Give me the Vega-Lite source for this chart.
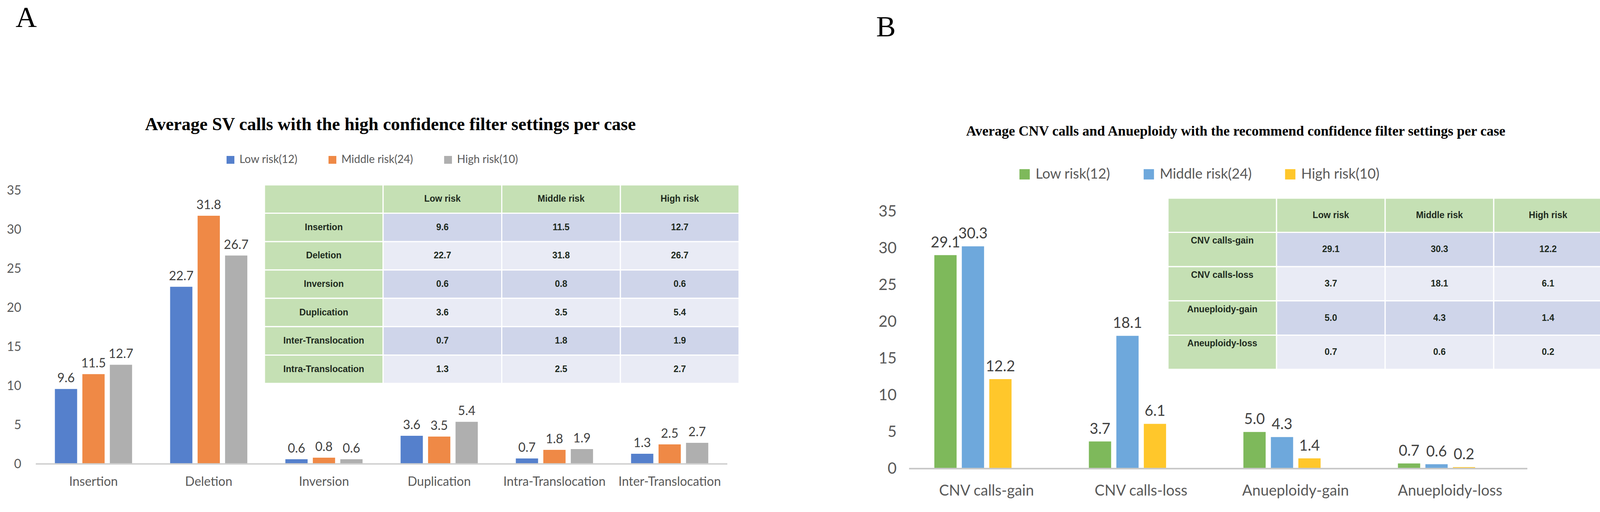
{
  "$schema": "https://vega.github.io/schema/vega-lite/v6.json",
  "background": "white",
  "padding": {"left": 16, "top": 9, "right": 0, "bottom": 0},
  "bounds": "flush",
  "spacing": 450,
  "datasets": {
    "svA": [
      {"type": "Insertion", "risk": "Low risk(12)", "value": 9.6},
      {"type": "Insertion", "risk": "Middle risk(24)", "value": 11.5},
      {"type": "Insertion", "risk": "High risk(10)", "value": 12.7},
      {"type": "Deletion", "risk": "Low risk(12)", "value": 22.7},
      {"type": "Deletion", "risk": "Middle risk(24)", "value": 31.8},
      {"type": "Deletion", "risk": "High risk(10)", "value": 26.7},
      {"type": "Inversion", "risk": "Low risk(12)", "value": 0.6},
      {"type": "Inversion", "risk": "Middle risk(24)", "value": 0.8},
      {"type": "Inversion", "risk": "High risk(10)", "value": 0.6},
      {"type": "Duplication", "risk": "Low risk(12)", "value": 3.6},
      {"type": "Duplication", "risk": "Middle risk(24)", "value": 3.5},
      {"type": "Duplication", "risk": "High risk(10)", "value": 5.4},
      {"type": "Intra-Translocation", "risk": "Low risk(12)", "value": 0.7},
      {"type": "Intra-Translocation", "risk": "Middle risk(24)", "value": 1.8},
      {"type": "Intra-Translocation", "risk": "High risk(10)", "value": 1.9},
      {"type": "Inter-Translocation", "risk": "Low risk(12)", "value": 1.3},
      {"type": "Inter-Translocation", "risk": "Middle risk(24)", "value": 2.5},
      {"type": "Inter-Translocation", "risk": "High risk(10)", "value": 2.7}
    ],
    "tabA": [
      {"row": "hdr", "col": "name", "text": "", "shade": "head"},
      {"row": "hdr", "col": "Low risk", "text": "Low risk", "shade": "head"},
      {"row": "hdr", "col": "Middle risk", "text": "Middle risk", "shade": "head"},
      {"row": "hdr", "col": "High risk", "text": "High risk", "shade": "head"},
      {"row": "Insertion", "col": "name", "text": "Insertion", "shade": "head"},
      {"row": "Insertion", "col": "Low risk", "text": "9.6", "shade": "dark"},
      {"row": "Insertion", "col": "Middle risk", "text": "11.5", "shade": "dark"},
      {"row": "Insertion", "col": "High risk", "text": "12.7", "shade": "dark"},
      {"row": "Deletion", "col": "name", "text": "Deletion", "shade": "head"},
      {"row": "Deletion", "col": "Low risk", "text": "22.7", "shade": "light"},
      {"row": "Deletion", "col": "Middle risk", "text": "31.8", "shade": "light"},
      {"row": "Deletion", "col": "High risk", "text": "26.7", "shade": "light"},
      {"row": "Inversion", "col": "name", "text": "Inversion", "shade": "head"},
      {"row": "Inversion", "col": "Low risk", "text": "0.6", "shade": "dark"},
      {"row": "Inversion", "col": "Middle risk", "text": "0.8", "shade": "dark"},
      {"row": "Inversion", "col": "High risk", "text": "0.6", "shade": "dark"},
      {"row": "Duplication", "col": "name", "text": "Duplication", "shade": "head"},
      {"row": "Duplication", "col": "Low risk", "text": "3.6", "shade": "light"},
      {"row": "Duplication", "col": "Middle risk", "text": "3.5", "shade": "light"},
      {"row": "Duplication", "col": "High risk", "text": "5.4", "shade": "light"},
      {"row": "Inter-Translocation", "col": "name", "text": "Inter-Translocation", "shade": "head"},
      {"row": "Inter-Translocation", "col": "Low risk", "text": "0.7", "shade": "dark"},
      {"row": "Inter-Translocation", "col": "Middle risk", "text": "1.8", "shade": "dark"},
      {"row": "Inter-Translocation", "col": "High risk", "text": "1.9", "shade": "dark"},
      {"row": "Intra-Translocation", "col": "name", "text": "Intra-Translocation", "shade": "head"},
      {"row": "Intra-Translocation", "col": "Low risk", "text": "1.3", "shade": "light"},
      {"row": "Intra-Translocation", "col": "Middle risk", "text": "2.5", "shade": "light"},
      {"row": "Intra-Translocation", "col": "High risk", "text": "2.7", "shade": "light"}
    ],
    "cnvB": [
      {"type": "CNV calls-gain", "risk": "Low risk(12)", "value": 29.1},
      {"type": "CNV calls-gain", "risk": "Middle risk(24)", "value": 30.3},
      {"type": "CNV calls-gain", "risk": "High risk(10)", "value": 12.2},
      {"type": "CNV calls-loss", "risk": "Low risk(12)", "value": 3.7},
      {"type": "CNV calls-loss", "risk": "Middle risk(24)", "value": 18.1},
      {"type": "CNV calls-loss", "risk": "High risk(10)", "value": 6.1},
      {"type": "Anueploidy-gain", "risk": "Low risk(12)", "value": 5.0},
      {"type": "Anueploidy-gain", "risk": "Middle risk(24)", "value": 4.3},
      {"type": "Anueploidy-gain", "risk": "High risk(10)", "value": 1.4},
      {"type": "Anueploidy-loss", "risk": "Low risk(12)", "value": 0.7},
      {"type": "Anueploidy-loss", "risk": "Middle risk(24)", "value": 0.6},
      {"type": "Anueploidy-loss", "risk": "High risk(10)", "value": 0.2}
    ],
    "tabB": [
      {"row": "hdr", "col": "name", "text": "", "shade": "head"},
      {"row": "hdr", "col": "Low risk", "text": "Low risk", "shade": "head"},
      {"row": "hdr", "col": "Middle risk", "text": "Middle risk", "shade": "head"},
      {"row": "hdr", "col": "High risk", "text": "High risk", "shade": "head"},
      {"row": "CNV calls-gain", "col": "name", "text": "CNV calls-gain", "shade": "head"},
      {"row": "CNV calls-gain", "col": "Low risk", "text": "29.1", "shade": "dark"},
      {"row": "CNV calls-gain", "col": "Middle risk", "text": "30.3", "shade": "dark"},
      {"row": "CNV calls-gain", "col": "High risk", "text": "12.2", "shade": "dark"},
      {"row": "CNV calls-loss", "col": "name", "text": "CNV calls-loss", "shade": "head"},
      {"row": "CNV calls-loss", "col": "Low risk", "text": "3.7", "shade": "light"},
      {"row": "CNV calls-loss", "col": "Middle risk", "text": "18.1", "shade": "light"},
      {"row": "CNV calls-loss", "col": "High risk", "text": "6.1", "shade": "light"},
      {"row": "Anueploidy-gain", "col": "name", "text": "Anueploidy-gain", "shade": "head"},
      {"row": "Anueploidy-gain", "col": "Low risk", "text": "5.0", "shade": "dark"},
      {"row": "Anueploidy-gain", "col": "Middle risk", "text": "4.3", "shade": "dark"},
      {"row": "Anueploidy-gain", "col": "High risk", "text": "1.4", "shade": "dark"},
      {"row": "Aneuploidy-loss", "col": "name", "text": "Aneuploidy-loss", "shade": "head"},
      {"row": "Aneuploidy-loss", "col": "Low risk", "text": "0.7", "shade": "light"},
      {"row": "Aneuploidy-loss", "col": "Middle risk", "text": "0.6", "shade": "light"},
      {"row": "Aneuploidy-loss", "col": "High risk", "text": "0.2", "shade": "light"}
    ]
  },
  "hconcat": [
    {
      "title": {"text": "A", "anchor": "start", "frame": "group", "font": "Liberation Serif", "fontSize": 75, "fontWeight": "normal", "color": "#000000", "offset": 210, "dx": -52},
      "width": 1800,
      "height": 719,
      "layer": [
        {
          "data": {"name": "svA"},
          "layer": [
            {
              "mark": {"type": "bar"},
              "encoding": {
                "x": {"field": "type", "type": "nominal",
                  "scale": {"domain": ["Insertion", "Deletion", "Inversion", "Duplication", "Intra-Translocation", "Inter-Translocation"], "paddingInner": 0.33, "paddingOuter": 0.2158, "align": 0.381},
                  "axis": {"title": null, "labelAngle": 0, "labelFont": "Lato", "labelFontSize": 32, "labelColor": "#595959", "labelPadding": 30, "labelLimit": 0, "ticks": false, "tickSize": 0, "domain": false, "grid": false}},
                "xOffset": {"field": "risk", "type": "nominal", "scale": {"domain": ["Low risk(12)", "Middle risk(24)", "High risk(10)"], "paddingInner": 0.19, "paddingOuter": 0}},
                "y": {"field": "value", "type": "quantitative",
                  "scale": {"domain": [0, 36], "nice": false},
                  "axis": {"title": null, "values": [0, 5, 10, 15, 20, 25, 30, 35], "labelFont": "Lato", "labelFontSize": 32, "labelColor": "#595959", "labelPadding": 38, "ticks": false, "tickSize": 0, "domain": false, "grid": false}},
                "color": {"field": "risk", "type": "nominal",
                  "scale": {"domain": ["Low risk(12)", "Middle risk(24)", "High risk(10)"], "range": ["#5580cc", "#ef8946", "#afafaf"]},
                  "legend": {"title": null, "orient": "none", "direction": "horizontal", "legendX": 484, "legendY": -73, "symbolType": "square", "symbolSize": 400, "symbolStrokeWidth": 0, "labelFont": "Lato", "labelFontSize": 28, "labelColor": "#595959", "labelOffset": 9, "labelLimit": 0, "columnPadding": 75, "padding": 0}}
              }
            },
            {
              "mark": {"type": "text", "baseline": "bottom", "dy": -10, "font": "Lato", "fontSize": 32, "color": "#404040"},
              "encoding": {
                "x": {"field": "type", "type": "nominal"},
                "xOffset": {"field": "risk", "type": "nominal"},
                "y": {"field": "value", "type": "quantitative"},
                "text": {"field": "value", "type": "quantitative", "format": ".1f"}
              }
            },
            {
              "mark": {"type": "tick", "orient": "horizontal", "size": 295, "thickness": 3, "color": "#d0d0d0", "opacity": 1},
              "encoding": {
                "x": {"field": "type", "type": "nominal"},
                "y": {"datum": 0, "type": "quantitative"}
              }
            }
          ]
        },
        {
          "data": {"name": "tabA"},
          "layer": [
            {
              "mark": {"type": "rect", "stroke": "white", "strokeWidth": 3},
              "encoding": {
                "x": {"field": "col", "type": "nominal",
                  "scale": {"domain": ["name", "Low risk", "Middle risk", "High risk"], "paddingInner": 0, "paddingOuter": 0.963, "align": 1},
                  "axis": {"orient": "top", "labels": false, "ticks": false, "tickSize": 0, "domain": false, "grid": false,
                    "title": "Average SV calls with the high confidence filter settings per case",
                    "titleFont": "Liberation Serif", "titleFontSize": 46, "titleFontWeight": "bold", "titleColor": "#000000",
                    "titleBaseline": "alphabetic", "titlePadding": 136, "titleX": 907, "titleAlign": "center", "titleLimit": 0}},
                "y": {"field": "row", "type": "nominal",
                  "scale": {"domain": ["hdr", "Insertion", "Deletion", "Inversion", "Duplication", "Inter-Translocation", "Intra-Translocation", "spare1", "spare2"], "paddingInner": 0, "paddingOuter": 0.454, "align": 0.076},
                  "axis": null},
                "fill": {"field": "shade", "type": "nominal", "scale": {"domain": ["head", "dark", "light"], "range": ["#C5E0B4", "#CFD5EA", "#E9EBF5"]}, "legend": null}
              }
            },
            {
              "mark": {"type": "text", "font": "Liberation Sans", "fontWeight": "bold", "fontSize": 23, "color": "#1e2a1e"},
              "encoding": {
                "x": {"field": "col", "type": "nominal"},
                "y": {"field": "row", "type": "nominal"},
                "text": {"field": "text", "type": "nominal"}
              }
            }
          ]
        }
      ],
      "resolve": {"scale": {"x": "independent", "y": "independent"}}
    },
    {
      "title": {"text": "B", "anchor": "start", "frame": "group", "font": "Liberation Serif", "fontSize": 75, "fontWeight": "normal", "color": "#000000", "offset": 208, "dx": -99},
      "width": 1760,
      "height": 731,
      "layer": [
        {
          "data": {"name": "cnvB"},
          "layer": [
            {
              "mark": {"type": "bar"},
              "encoding": {
                "x": {"field": "type", "type": "nominal",
                  "scale": {"domain": ["CNV calls-gain", "CNV calls-loss", "Anueploidy-gain", "Anueploidy-loss"], "paddingInner": 0.325, "paddingOuter": 0.387, "align": 0.163},
                  "axis": {"title": null, "labelAngle": 0, "labelFont": "Lato", "labelFontSize": 38, "labelColor": "#595959", "labelPadding": 38, "labelLimit": 0, "ticks": false, "tickSize": 0, "domain": false, "grid": false}},
                "xOffset": {"field": "risk", "type": "nominal", "scale": {"domain": ["Low risk(12)", "Middle risk(24)", "High risk(10)"], "paddingInner": 0.1875, "paddingOuter": 0}},
                "y": {"field": "value", "type": "quantitative",
                  "scale": {"domain": [0, 38.94], "nice": false},
                  "axis": {"title": null, "values": [0, 5, 10, 15, 20, 25, 30, 35], "labelFont": "Lato", "labelFontSize": 40, "labelColor": "#595959", "labelPadding": 47, "ticks": false, "tickSize": 0, "domain": false, "grid": false}},
                "color": {"field": "risk", "type": "nominal",
                  "scale": {"domain": ["Low risk(12)", "Middle risk(24)", "High risk(10)"], "range": ["#7eb95b", "#6ea8dc", "#ffc72b"]},
                  "legend": {"title": null, "orient": "none", "direction": "horizontal", "legendX": 263, "legendY": -40, "symbolType": "square", "symbolSize": 700, "symbolStrokeWidth": 0, "labelFont": "Lato", "labelFontSize": 36, "labelColor": "#595959", "labelOffset": 10, "labelLimit": 0, "columnPadding": 80, "padding": 0}}
              }
            },
            {
              "mark": {"type": "text", "baseline": "bottom", "dy": -12, "font": "Lato", "fontSize": 38, "color": "#404040"},
              "encoding": {
                "x": {"field": "type", "type": "nominal"},
                "xOffset": {"field": "risk", "type": "nominal"},
                "y": {"field": "value", "type": "quantitative"},
                "text": {"field": "value", "type": "quantitative", "format": ".1f"}
              }
            },
            {
              "mark": {"type": "tick", "orient": "horizontal", "size": 395.6, "thickness": 4, "color": "#c8c8c8", "opacity": 1},
              "encoding": {
                "x": {"field": "type", "type": "nominal"},
                "y": {"datum": 0, "type": "quantitative"}
              }
            }
          ]
        },
        {
          "data": {"name": "tabB"},
          "layer": [
            {
              "mark": {"type": "rect", "stroke": "white", "strokeWidth": 3},
              "encoding": {
                "x": {"field": "col", "type": "nominal",
                  "scale": {"domain": ["spare1", "spare2", "name", "Low risk", "Middle risk", "High risk"], "paddingInner": 0, "paddingOuter": 0.1655, "align": 1},
                  "axis": {"orient": "top", "labels": false, "ticks": false, "tickSize": 0, "domain": false, "grid": false,
                    "title": "Average CNV calls and Anueploidy with the recommend confidence filter settings per case",
                    "titleFont": "Liberation Serif", "titleFontSize": 36, "titleFontWeight": "bold", "titleColor": "#000000",
                    "titleBaseline": "alphabetic", "titlePadding": 122, "titleX": 821, "titleAlign": "center", "titleLimit": 0}},
                "y": {"field": "row", "type": "nominal",
                  "scale": {"domain": ["hdr", "CNV calls-gain", "CNV calls-loss", "Anueploidy-gain", "Aneuploidy-loss", "spare1", "spare2"], "paddingInner": 0, "paddingOuter": 0.672, "align": 0.331},
                  "axis": null},
                "fill": {"field": "shade", "type": "nominal", "scale": {"domain": ["head", "dark", "light"], "range": ["#C5E0B4", "#CFD5EA", "#E9EBF5"]}, "legend": null}
              }
            },
            {
              "transform": [{"filter": "datum.col !== 'name'"}],
              "mark": {"type": "text", "font": "Liberation Sans", "fontWeight": "bold", "fontSize": 23, "color": "#1e2a1e"},
              "encoding": {
                "x": {"field": "col", "type": "nominal"},
                "y": {"field": "row", "type": "nominal"},
                "text": {"field": "text", "type": "nominal"}
              }
            },
            {
              "transform": [{"filter": "datum.col === 'name'"}],
              "mark": {"type": "text", "font": "Liberation Sans", "fontWeight": "bold", "fontSize": 23, "color": "#1e2a1e"},
              "encoding": {
                "x": {"field": "col", "type": "nominal"},
                "y": {"field": "row", "type": "nominal", "bandPosition": 0.25},
                "text": {"field": "text", "type": "nominal"}
              }
            }
          ]
        }
      ],
      "resolve": {"scale": {"x": "independent", "y": "independent"}}
    }
  ],
  "resolve": {"scale": {"color": "independent", "fill": "independent"}, "legend": {"color": "independent"}},
  "config": {"view": {"stroke": null}, "font": "Lato", "axis": {"grid": false}}
}
